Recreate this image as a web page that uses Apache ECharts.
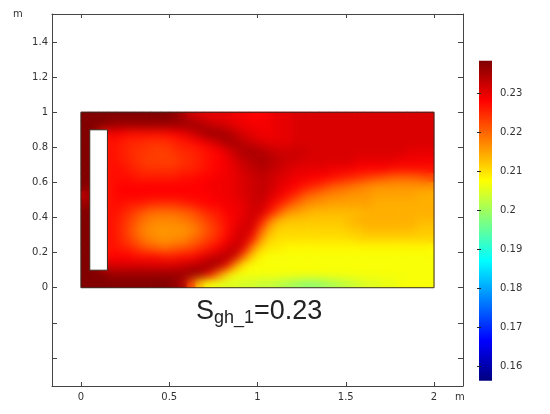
<!DOCTYPE html>
<html>
<head>
<meta charset="utf-8">
<title>Sgh_1=0.23</title>
<script src="https://cdn.jsdelivr.net/npm/echarts@6/dist/echarts.min.js"></script>
<style>
  html, body { margin: 0; padding: 0; background: #fff; }
  .layer { position: absolute; left: 0; top: 0; width: 550px; height: 414px; }
  #clip { position: absolute; left: 81px; top: 112px; width: 353px; height: 176px; overflow: hidden; }
  #heatSoft { left: -81px; top: -112px; filter: blur(5px); }
</style>
</head>
<body>
<div id="heatBase" class="layer"></div>
<div id="clip"><div id="heatSoft" class="layer"></div></div>
<div id="axes" class="layer"></div>
<script>
// cell centres, metres
var xCells = [0.025,0.075,0.125,0.175,0.225,0.275,0.325,0.375,0.425,0.475,0.525,0.575,0.625,0.675,0.725,0.775,0.825,0.875,0.925,0.975,
              1.025,1.075,1.125,1.175,1.225,1.275,1.325,1.375,1.425,1.475,1.525,1.575,1.625,1.675,1.725,1.775,1.825,1.875,1.925,1.975];
var yCells = [0.975,0.925,0.875,0.825,0.775,0.725,0.675,0.625,0.575,0.525,0.475,0.425,0.375,0.325,0.275,0.225,0.175,0.125,0.075,0.025];

// S values, in thousandths, one row per yCells entry
var fieldRows = [
  [238,238,238,238,238,238,238,238,238,238,237,235,232,231,230,230,230,229,229,228,228,229,230,230,231,231,231,231,231,231,231,231,231,231,231,231,231,231,231,231],
  [238,238,238,236,236,236,236,236,236,236,236,236,236,235,233,232,231,230,229,229,229,229,230,230,231,231,231,231,231,231,231,231,231,231,231,231,231,231,231,231],
  [238,238,226,229,228,227,227,227,227,227,228,229,231,234,236,236,235,233,231,230,229,229,230,230,231,231,231,231,231,231,231,231,231,231,231,231,231,231,231,231],
  [238,238,226,227,226,225,225,224,224,224,225,226,227,228,230,232,235,235,233,232,231,230,230,230,231,231,231,231,231,231,231,231,231,231,231,231,231,231,231,231],
  [238,238,226,227,226,225,224,224,223,223,224,225,225,226,227,228,230,233,235,235,234,233,232,232,232,232,231,231,231,231,231,231,231,231,231,231,231,230,230,230],
  [238,238,226,227,226,225,224,223,223,223,223,224,225,226,227,228,229,231,233,234,235,234,233,232,232,231,231,231,231,231,231,230,230,230,230,230,229,229,229,229],
  [238,238,226,227,227,226,225,224,224,224,224,225,225,226,227,228,229,230,232,233,234,233,232,231,230,230,230,230,229,229,229,228,228,228,228,227,227,227,227,227],
  [238,238,226,227,227,227,226,226,226,226,226,227,227,228,228,229,229,230,231,232,233,232,231,230,229,229,228,228,227,226,225,224,223,222,221,220,220,220,221,222],
  [238,237,226,227,228,228,228,228,228,228,228,228,228,228,229,229,229,230,231,232,233,232,230,229,228,226,225,223,221,220,219,218,217,216,216,216,216,216,216,216],
  [233,237,226,227,228,228,228,228,228,228,228,228,228,228,228,229,229,230,231,232,233,231,229,227,224,221,219,218,217,217,216,216,216,215,215,215,215,215,214,214],
  [236,238,226,227,227,226,226,225,224,224,224,225,226,227,228,228,229,229,230,232,232,229,226,222,219,217,216,216,215,215,215,215,215,214,214,214,214,214,214,214],
  [238,238,226,227,226,224,222,220,219,219,219,220,221,223,225,226,228,229,230,232,231,226,220,216,215,214,213,213,213,213,213,213,214,214,214,214,214,214,214,214],
  [238,238,226,227,225,223,220,218,217,217,217,218,219,221,223,225,227,229,231,232,226,217,213,212,212,212,212,212,212,212,213,214,214,214,214,214,214,214,213,213],
  [238,238,226,227,225,222,219,217,216,216,216,216,217,219,222,224,227,230,232,230,220,213,211,211,211,211,211,211,211,211,212,212,213,213,213,213,213,213,212,212],
  [238,238,226,227,225,223,220,218,217,216,217,217,219,221,223,225,228,231,232,226,215,211,210,210,210,210,210,210,210,210,210,211,211,211,211,211,211,211,211,211],
  [238,238,226,227,226,225,223,221,220,219,220,221,222,224,226,228,231,233,230,217,211,209,209,208,208,208,208,208,208,208,208,208,208,208,208,208,208,208,208,208],
  [238,238,226,228,228,228,227,227,227,226,226,227,227,229,231,233,234,232,219,211,208,207,207,207,207,207,207,207,207,207,207,207,207,207,207,207,207,207,207,207],
  [238,238,232,231,231,231,231,231,231,231,231,232,233,234,236,235,230,216,209,207,207,207,207,207,207,207,207,207,207,207,207,207,207,207,207,207,207,207,207,207],
  [238,238,238,236,236,236,236,236,236,236,236,236,237,236,230,220,211,207,207,207,207,207,207,207,207,207,207,207,207,207,207,207,207,207,207,207,207,207,207,207],
  [238,238,238,238,238,238,238,238,238,238,237,235,222,212,207,206,205,205,204,204,203,203,202,201,200,199,199,200,201,202,203,204,205,205,206,206,207,207,207,207]
];

// axis ticks
var xTicks = [0, 0.5, 1, 1.5, 2];
var yTicks = [-0.4, -0.2, 0, 0.2, 0.4, 0.6, 0.8, 1, 1.2, 1.4];
var yLabels = [0, 0.2, 0.4, 0.6, 0.8, 1, 1.2, 1.4];
var barTicks = [0.16, 0.17, 0.18, 0.19, 0.2, 0.21, 0.22, 0.23];

// colour range of the bar
var barMin = 0.1564;
var barMax = 0.2383;
var rainbow = ['#00007f', '#0000ff', '#007fff', '#00ffff', '#7fff7f', '#ffff00', '#ff7f00', '#ff0000', '#7f0000'];

// domain frame and the blocked plate: x0, y0, x1, y1
var frameBox = [0, 0, 2, 1];
var plateBox = [0.05, 0.1, 0.15, 0.9];

function heatData() {
    var out = [];
    fieldRows.forEach(function(row, r) {
        row.forEach(function(v, c) {
            out.push([c, r, v / 1000]);
        });
    });
    return out;
}

function heatOption() {
    return {
        animation: false,
        grid: { left: 81, top: 112, width: 353, height: 175.5 },
        xAxis: { type: 'category', data: xCells, show: false },
        yAxis: { type: 'category', data: yCells, inverse: true, show: false },
        visualMap: { show: false, min: barMin, max: barMax, inRange: { color: rainbow } },
        series: [{ type: 'heatmap', data: heatData(), progressive: 0, itemStyle: { borderWidth: 0 } }]
    };
}

// plain ticks-only axis helper
function edgeAxis(extra) {
    var base = {
        type: 'value',
        scale: true,
        splitLine: { show: false },
        axisLine: { show: true, onZero: false, lineStyle: { color: '#444', width: 1 } },
        axisTick: { show: true, inside: true, length: 4, lineStyle: { color: '#444' } },
        axisLabel: { show: false }
    };
    return Object.assign(base, extra);
}

var labelFont = { fontFamily: 'DejaVu Sans', fontSize: 10, color: '#333' };

function barStops() {
    return rainbow.map(function(c, i) {
        return { offset: 1 - i / (rainbow.length - 1), color: c };
    });
}

function axesOption() {
    return {
        animation: false,
        backgroundColor: 'transparent',
        grid: [
            { left: 52, right: 87, top: 14, bottom: 28 },
            { left: 479, width: 13, top: 60.7, height: 320 }
        ],
        xAxis: [
            edgeAxis({ gridIndex: 0, position: 'bottom', min: -0.164, max: 2.164,
                axisTick: { show: true, inside: true, length: 4, customValues: xTicks, lineStyle: { color: '#444' } },
                axisLabel: Object.assign({ show: true, margin: 6, customValues: xTicks }, labelFont) }),
            edgeAxis({ gridIndex: 0, position: 'top', min: -0.164, max: 2.164,
                axisTick: { show: true, inside: true, length: 4, customValues: xTicks, lineStyle: { color: '#444' } } }),
            { gridIndex: 1, type: 'value', show: false, min: 0, max: 1 }
        ],
        yAxis: [
            edgeAxis({ gridIndex: 0, position: 'left', min: -0.56, max: 1.56,
                axisTick: { show: true, inside: true, length: 5, customValues: yTicks, lineStyle: { color: '#444' } },
                axisLabel: Object.assign({ show: true, margin: 4, customValues: yLabels }, labelFont) }),
            edgeAxis({ gridIndex: 0, position: 'right', min: -0.56, max: 1.56,
                axisTick: { show: true, inside: true, length: 5, customValues: yTicks, lineStyle: { color: '#444' } } }),
            { gridIndex: 1, type: 'value', position: 'right', min: barMin, max: barMax, z: 6,
              splitLine: { show: false }, axisLine: { show: false },
              axisTick: { show: true, inside: true, length: 2, customValues: barTicks, lineStyle: { color: '#222' } },
              axisLabel: Object.assign({ show: true, margin: 8, customValues: barTicks }, labelFont) },
            { gridIndex: 1, type: 'value', position: 'left', min: barMin, max: barMax, z: 6,
              splitLine: { show: false }, axisLine: { show: false }, axisLabel: { show: false },
              axisTick: { show: true, inside: true, length: 2, customValues: barTicks, lineStyle: { color: '#222' } } }
        ],
        series: [{
            type: 'custom',
            coordinateSystem: 'cartesian2d',
            xAxisIndex: 0,
            yAxisIndex: 0,
            silent: true,
            data: [frameBox, plateBox],
            renderItem: function(params, api) {
                var a = api.coord([api.value(0), api.value(3)]);
                var b = api.coord([api.value(2), api.value(1)]);
                return {
                    type: 'rect',
                    shape: { x: a[0], y: a[1], width: b[0] - a[0], height: b[1] - a[1] },
                    style: {
                        fill: params.dataIndex === 1 ? '#fff' : 'none',
                        stroke: '#3a2a20',
                        lineWidth: 1
                    }
                };
            }
        }, {
            // colour bar, sharp corners
            type: 'custom',
            coordinateSystem: 'cartesian2d',
            xAxisIndex: 2,
            yAxisIndex: 2,
            silent: true,
            z: 1,
            data: [[0, barMin, 1, barMax]],
            renderItem: function(params, api) {
                var a = api.coord([api.value(0), api.value(3)]);
                var b = api.coord([api.value(2), api.value(1)]);
                return {
                    type: 'rect',
                    shape: { x: a[0], y: a[1], width: b[0] - a[0], height: b[1] - a[1] },
                    style: { fill: new echarts.graphic.LinearGradient(0, 0, 0, 1, barStops()) }
                };
            }
        }],
        graphic: [
            { type: 'text', left: 13, top: 9, style: { text: 'm', fill: '#333', font: '10px "DejaVu Sans"' } },
            { type: 'text', left: 455, top: 392, style: { text: 'm', fill: '#333', font: '10px "DejaVu Sans"' } },
            {
                type: 'text',
                left: 196,
                top: 297,
                style: {
                    text: '{a|S}{b|gh_1}{a|=0.23}',
                    rich: {
                        a: { fontFamily: 'Liberation Sans', fontSize: 27, fill: '#222', lineHeight: 30 },
                        b: { fontFamily: 'Liberation Sans', fontSize: 18, fill: '#222', padding: [12, 0, 0, 0], lineHeight: 30 }
                    }
                }
            }
        ]
    };
}

function render() {
    echarts.init(document.getElementById('heatBase')).setOption(heatOption());
    echarts.init(document.getElementById('heatSoft')).setOption(heatOption());
    echarts.init(document.getElementById('axes')).setOption(axesOption());
}

render();
</script>
</body>
</html>
